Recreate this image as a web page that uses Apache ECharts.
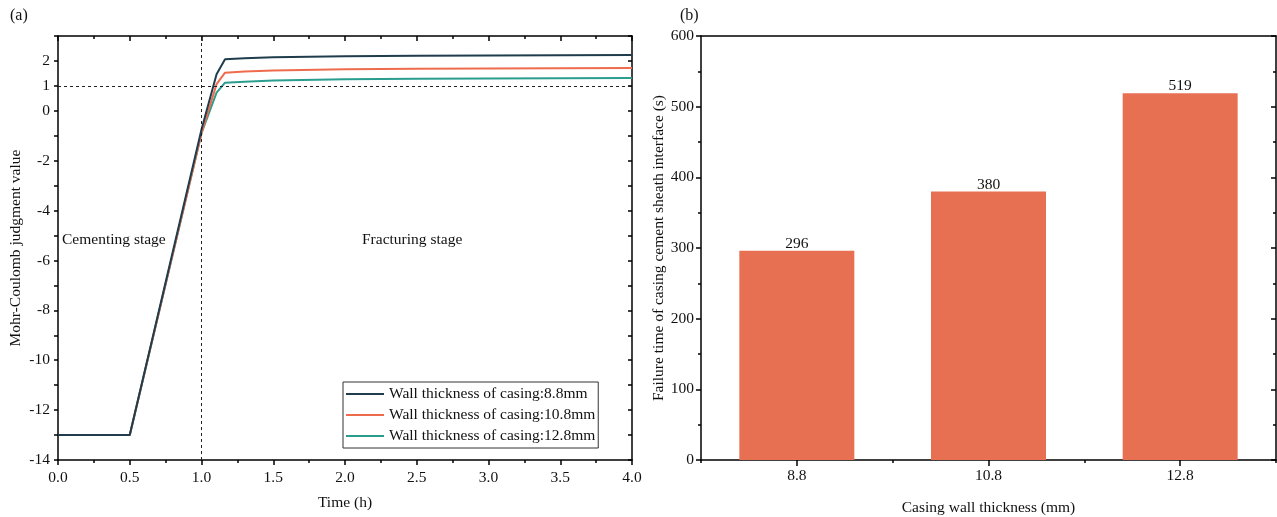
<!DOCTYPE html>
<html>
<head>
<meta charset="utf-8">
<script src="https://cdn.jsdelivr.net/npm/echarts@6/dist/echarts.min.js"></script>
<style>
  html, body { margin: 0; padding: 0; background: #fff; }
  #chart { width: 1277px; height: 517px; }
</style>
</head>
<body>
<div id="chart"></div>
<script>
// (a) Mohr-Coulomb judgment value vs time
var timeH = [0, 0.5, 1.0, 1.105, 1.164, 1.3, 1.5, 2.0, 2.5, 3.0, 3.5, 4.0];
var mc88  = [-13, -13, -0.75, 1.47, 2.07, 2.11, 2.15, 2.19, 2.21, 2.22, 2.23, 2.24];
var mc108 = [-13, -13, -0.9, 1.07, 1.53, 1.58, 1.62, 1.67, 1.69, 1.70, 1.71, 1.72];
var mc128 = [-13, -13, -0.9, 0.73, 1.13, 1.17, 1.22, 1.27, 1.29, 1.30, 1.31, 1.32];
var legendNames = ['Wall thickness of casing:8.8mm', 'Wall thickness of casing:10.8mm', 'Wall thickness of casing:12.8mm'];

// (b) failure time of interface
var thickness = ['8.8', '10.8', '12.8'];
var failTime = [296, 380, 519];

var FONT = '"Liberation Serif", "Times New Roman", serif';
var lineColors = ['#1f3d4c', '#ee6c4d', '#2a9d8f'];

function pairs(xs, ys) {
  var out = [];
  for (var i = 0; i < xs.length; i++) out.push([xs[i], ys[i]]);
  return out;
}

var chart = echarts.init(document.getElementById('chart'));

var axisLineStyle = { show: true, onZero: false, lineStyle: { color: '#000', width: 1.5 } };
var labelStyle = { color: '#111', fontFamily: FONT, fontSize: 15.5 };
var nameStyle = { fontFamily: FONT, fontSize: 15.5, color: '#111' };

var option = {
  animation: false,
  textStyle: { fontFamily: FONT },
  grid: [
    { left: 58, top: 36, width: 574, height: 424, outerBoundsMode: 'none' },
    { left: 701, top: 36, width: 575, height: 424, outerBoundsMode: 'none' }
  ],
  legend: {
    data: legendNames,
    orient: 'vertical',
    left: 343, top: 382,
    icon: 'rect',
    itemWidth: 38, itemHeight: 2,
    itemGap: 5,
    padding: [4, 3, 4, 3],
    borderColor: '#333', borderWidth: 1,
    textStyle: { fontFamily: FONT, fontSize: 15.5, color: '#111' }
  },
  xAxis: [
    {
      type: 'value', gridIndex: 0, min: 0, max: 4, interval: 0.5,
      name: 'Time (h)', nameLocation: 'middle', nameGap: 35,
      nameTextStyle: nameStyle,
      axisLine: axisLineStyle,
      axisTick: { show: true, length: 5, lineStyle: { color: '#000', width: 1.5 } },
      minorTick: { show: true, splitNumber: 2, length: 3, lineStyle: { color: '#000', width: 1.5 } },
      splitLine: { show: false },
      axisLabel: Object.assign({ margin: 10, formatter: function (v) { return v.toFixed(1); } }, labelStyle)
    },
    {
      type: 'value', gridIndex: 0, position: 'top', min: 0, max: 4, interval: 0.5,
      axisLine: axisLineStyle,
      axisTick: { show: true, inside: true, length: 5, lineStyle: { color: '#000', width: 1.5 } },
      minorTick: { show: true, splitNumber: 2, length: 3, lineStyle: { color: '#000', width: 1.5 } },
      splitLine: { show: false },
      axisLabel: { show: false }
    },
    {
      type: 'category', gridIndex: 1, data: thickness,
      name: 'Casing wall thickness (mm)', nameLocation: 'middle', nameGap: 40,
      nameTextStyle: nameStyle,
      axisLine: axisLineStyle,
      axisTick: { show: true, alignWithLabel: true, length: 6, lineStyle: { color: '#000', width: 1.5 } },
      axisLabel: Object.assign({ margin: 8 }, labelStyle)
    },
    {
      type: 'category', gridIndex: 1, data: thickness, position: 'bottom',
      axisLine: { show: false },
      axisTick: { show: true, alignWithLabel: false, length: 3, lineStyle: { color: '#000', width: 1.5 } },
      axisLabel: { show: false }
    },
    {
      type: 'category', gridIndex: 1, data: thickness, position: 'top',
      axisLine: axisLineStyle,
      axisTick: { show: false },
      axisLabel: { show: false }
    }
  ],
  yAxis: [
    {
      type: 'value', gridIndex: 0, min: -14, max: 3, interval: 1,
      name: 'Mohr-Coulomb judgment value', nameLocation: 'middle', nameGap: 34,
      nameTextStyle: nameStyle,
      axisLine: axisLineStyle,
      axisTick: { show: true, length: 4, lineStyle: { color: '#000', width: 1.5 } },
      splitLine: { show: false },
      axisLabel: Object.assign({
        margin: 8,
        formatter: function (v) {
          if (v >= 3) return '';
          if (v < 0 && Math.abs(v) % 2 === 1) return '';
          return String(v);
        }
      }, labelStyle)
    },
    {
      type: 'value', gridIndex: 0, position: 'right', min: -14, max: 3, interval: 1,
      axisLine: axisLineStyle,
      axisTick: { show: true, inside: true, length: 4, lineStyle: { color: '#000', width: 1.5 } },
      splitLine: { show: false },
      axisLabel: { show: false }
    },
    {
      type: 'value', gridIndex: 1, min: 0, max: 600, interval: 100,
      name: 'Failure time of casing cement sheath interface (s)', nameLocation: 'middle', nameGap: 33,
      nameTextStyle: nameStyle,
      axisLine: axisLineStyle,
      axisTick: { show: true, length: 5, lineStyle: { color: '#000', width: 1.5 } },
      minorTick: { show: true, splitNumber: 2, length: 3, lineStyle: { color: '#000', width: 1.5 } },
      splitLine: { show: false },
      axisLabel: Object.assign({ margin: 7 }, labelStyle)
    },
    {
      type: 'value', gridIndex: 1, position: 'right', min: 0, max: 600, interval: 100,
      axisLine: axisLineStyle,
      axisTick: { show: true, inside: true, length: 5, lineStyle: { color: '#000', width: 1.5 } },
      minorTick: { show: true, splitNumber: 2, length: 3, lineStyle: { color: '#000', width: 1.5 } },
      splitLine: { show: false },
      axisLabel: { show: false }
    }
  ],
  series: [
    {
      name: legendNames[0], type: 'line', xAxisIndex: 0, yAxisIndex: 0,
      data: pairs(timeH, mc88), showSymbol: false, z: 4,
      itemStyle: { color: lineColors[0] }, lineStyle: { width: 2, color: lineColors[0] },
      markLine: {
        silent: true, symbol: 'none', label: { show: false },
        lineStyle: { type: [3, 3], color: '#222', width: 1 },
        data: [{ xAxis: 1 }, { yAxis: 1 }]
      }
    },
    {
      name: legendNames[1], type: 'line', xAxisIndex: 0, yAxisIndex: 0,
      data: pairs(timeH, mc108), showSymbol: false, z: 3,
      itemStyle: { color: lineColors[1] }, lineStyle: { width: 2, color: lineColors[1] }
    },
    {
      name: legendNames[2], type: 'line', xAxisIndex: 0, yAxisIndex: 0,
      data: pairs(timeH, mc128), showSymbol: false, z: 2,
      itemStyle: { color: lineColors[2] }, lineStyle: { width: 2, color: lineColors[2] }
    },
    {
      name: 'failure', type: 'bar', xAxisIndex: 2, yAxisIndex: 2,
      data: failTime, barWidth: '60%',
      itemStyle: { color: '#e87052' },
      label: { show: true, position: 'top', distance: -1, fontFamily: FONT, fontSize: 15.5, color: '#111' }
    }
  ],
  graphic: [
    { type: 'text', left: 10, top: 8, style: { text: '(a)', font: '16px ' + FONT, fill: '#111' } },
    { type: 'text', left: 680, top: 8, style: { text: '(b)', font: '16px ' + FONT, fill: '#111' } },
    { type: 'text', left: 62, top: 232, style: { text: 'Cementing stage', font: '15.5px ' + FONT, fill: '#111' } },
    { type: 'text', left: 362, top: 232, style: { text: 'Fracturing stage', font: '15.5px ' + FONT, fill: '#111' } }
  ]
};

if (option && typeof option === 'object') {
  chart.setOption(option, true);
}
</script>
</body>
</html>
